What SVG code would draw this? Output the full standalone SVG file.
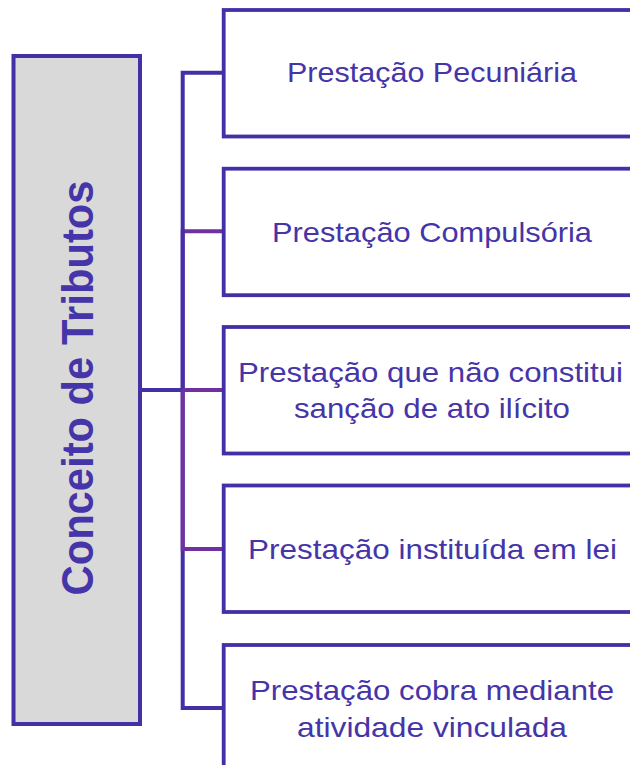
<svg xmlns="http://www.w3.org/2000/svg" width="630" height="765" viewBox="0 0 630 765">
<style>
.box{fill:#ffffff;stroke:#4130A6;stroke-width:3.8}
.root{fill:#D9D9D9;stroke:#4130A6;stroke-width:4}
.t{font-family:"Liberation Sans",Arial,sans-serif;font-size:28.5px;fill:#4535A8;text-anchor:middle}
.rt{font-family:"Liberation Sans",Arial,sans-serif;font-size:44px;font-weight:bold;fill:#4535A8;text-anchor:middle}
.cb{fill:none;stroke:#4130A6;stroke-width:4;stroke-linejoin:miter}
.cp{fill:none;stroke:#7030A0;stroke-width:4;stroke-linejoin:miter}
</style>
<rect width="630" height="765" fill="#ffffff"/>
<g id="connectors">
<polyline class="cp" points="182.7,390 182.7,231.3 224,231.3"/>
<polyline class="cb" points="140,390 182.7,390 182.7,72.7 224,72.7"/>
<polyline class="cb" points="182.7,390 182.7,708 224,708"/>
<polyline class="cp" points="182.7,390 182.7,549 224,549"/>
<polyline class="cp" points="182.7,390 224,390"/>
</g>
<g id="root">
<rect class="root" x="13.5" y="56" width="126.5" height="668"/>
<text class="rt" transform="translate(92.5,388) rotate(-90)" textLength="415" lengthAdjust="spacingAndGlyphs">Conceito de Tributos</text>
</g>
<g id="n1">
<rect class="box" x="223.7" y="10" width="420" height="126.5"/>
<text class="t" x="432" y="82" textLength="290" lengthAdjust="spacingAndGlyphs">Prestação Pecuniária</text>
</g>
<g id="n2">
<rect class="box" x="223.7" y="168.7" width="420" height="126.5"/>
<text class="t" x="432" y="241.5" textLength="320" lengthAdjust="spacingAndGlyphs">Prestação Compulsória</text>
</g>
<g id="n3">
<rect class="box" x="223.7" y="327" width="420" height="126.5"/>
<text class="t" x="430.5" y="381.7" textLength="385" lengthAdjust="spacingAndGlyphs">Prestação que não constitui</text>
<text class="t" x="432" y="418.3" textLength="276" lengthAdjust="spacingAndGlyphs">sanção de ato ilícito</text>
</g>
<g id="n4">
<rect class="box" x="223.7" y="485.5" width="420" height="126.5"/>
<text class="t" x="432.5" y="559" textLength="369" lengthAdjust="spacingAndGlyphs">Prestação instituída em lei</text>
</g>
<g id="n5">
<rect class="box" x="223.7" y="645" width="420" height="126.5"/>
<text class="t" x="432" y="700" textLength="364" lengthAdjust="spacingAndGlyphs">Prestação cobra mediante</text>
<text class="t" x="432" y="737" textLength="270" lengthAdjust="spacingAndGlyphs">atividade vinculada</text>
</g>
</svg>
